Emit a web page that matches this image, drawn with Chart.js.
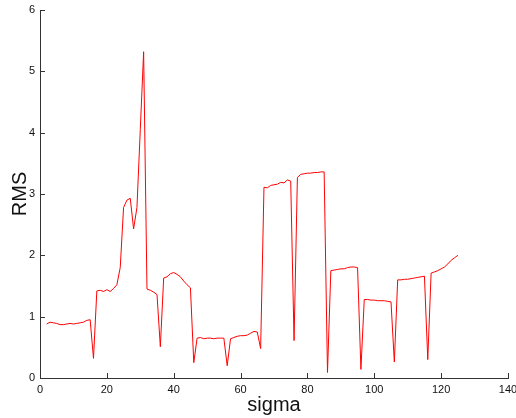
<!DOCTYPE html>
<html>
<head>
<meta charset="utf-8">
<script src="https://cdn.jsdelivr.net/npm/chart.js@4/dist/chart.umd.min.js"></script>
<style>
  body { margin: 0; background: #fff; }
  canvas { display: block; }
</style>
</head>
<body>
<canvas id="myChart" width="516" height="418"></canvas>
<script>
// sigma values along x
let sigma = [2, 3, 4, 5, 6, 7, 8, 9, 10, 11, 12, 13, 14, 15, 16, 17, 18, 19, 20, 21,
    22, 23, 24, 25, 26, 27, 28, 29, 30, 31, 32, 33, 34, 35, 36, 37, 38, 39, 40, 41,
    42, 43, 44, 45, 46, 47, 48, 49, 50, 51, 52, 53, 54, 55, 56, 57, 58, 59, 60, 61,
    62, 63, 64, 65, 66, 67, 68, 69, 70, 71, 72, 73, 74, 75, 76, 77, 78, 79, 80, 81,
    82, 83, 84, 85, 86, 87, 88, 89, 90, 91, 92, 93, 94, 95, 96, 97, 98, 99, 100, 101,
    102, 103, 104, 105, 106, 107, 108, 109, 110, 111, 112, 113, 114, 115, 116, 117, 118, 119, 120, 121,
    122, 123, 124, 125];

// RMS
let rms = [0.88, 0.91, 0.90, 0.89, 0.87, 0.87, 0.88, 0.89, 0.88, 0.89, 0.90, 0.91, 0.94, 0.95, 0.32, 1.42, 1.43, 1.41, 1.44, 1.41,
    1.46, 1.52, 1.80, 2.78, 2.90, 2.93, 2.43, 2.78, 4.05, 5.32, 1.45, 1.43, 1.40, 1.36, 0.51, 1.63, 1.65, 1.70, 1.72, 1.69,
    1.65, 1.58, 1.52, 1.47, 0.25, 0.65, 0.66, 0.64, 0.65, 0.65, 0.64, 0.65, 0.65, 0.65, 0.20, 0.64, 0.66, 0.68, 0.69, 0.69,
    0.70, 0.73, 0.76, 0.75, 0.48, 3.11, 3.10, 3.14, 3.15, 3.16, 3.19, 3.18, 3.23, 3.21, 0.61, 3.27, 3.32, 3.33, 3.34, 3.34,
    3.35, 3.35, 3.36, 3.36, 0.09, 1.75, 1.76, 1.77, 1.78, 1.78, 1.80, 1.81, 1.81, 1.80, 0.14, 1.28, 1.28, 1.27, 1.27, 1.26,
    1.26, 1.26, 1.25, 1.24, 0.26, 1.60, 1.60, 1.61, 1.61, 1.62, 1.63, 1.64, 1.65, 1.66, 0.30, 1.71, 1.73, 1.75, 1.78, 1.81,
    1.86, 1.92, 1.96, 2.00];

let xTicks = [0, 20, 40, 60, 80, 100, 120, 140];
let yTicks = [0, 1, 2, 3, 4, 5, 6];

let axisColor = '#333';
let textColor = '#111';

let points = sigma.map((s, i) => ({ x: s, y: rms[i] }));

// tick marks drawn inward, matlab style
let innerTicks = {
    id: 'innerTicks',
    afterDraw(chart) {
        let ctx = chart.ctx;
        let x = chart.scales.x;
        let y = chart.scales.y;
        let area = chart.chartArea;
        ctx.save();
        ctx.strokeStyle = axisColor;
        ctx.lineWidth = 1;
        ctx.beginPath();
        xTicks.forEach(v => {
            let px = Math.round(x.getPixelForValue(v)) + 0.5;
            ctx.moveTo(px, area.bottom);
            ctx.lineTo(px, area.bottom - 5);
        });
        yTicks.forEach(v => {
            let py = Math.round(y.getPixelForValue(v)) + 0.5;
            ctx.moveTo(area.left, py);
            ctx.lineTo(area.left + 5, py);
        });
        ctx.stroke();
        ctx.restore();
    }
};

let myChart = new Chart(document.getElementById('myChart'), {
    type: 'line',
    data: {
        datasets: [{
            data: points,
            borderColor: '#ff0000',
            borderWidth: 1,
            pointRadius: 0,
            tension: 0,
            fill: false
        }]
    },
    options: {
        responsive: false,
        animation: false,
        layout: { padding: { top: 10, right: 8, left: 0, bottom: 0 } },
        plugins: {
            legend: { display: false },
            tooltip: { enabled: false }
        },
        scales: {
            x: {
                type: 'linear',
                min: 0,
                max: 140,
                afterBuildTicks: scale => { scale.ticks = xTicks.map(v => ({ value: v })); },
                afterFit: scale => {
                    scale.height = 40;
                    scale.paddingLeft = 0;
                    scale.paddingRight = 0;
                },
                ticks: {
                    color: textColor,
                    font: { family: 'Liberation Sans, Arial, sans-serif', size: 11 },
                    padding: 5,
                    maxRotation: 0,
                    autoSkip: false
                },
                grid: { display: false, drawTicks: false },
                border: { display: true, color: axisColor, width: 1 },
                title: {
                    display: true,
                    text: 'sigma',
                    color: textColor,
                    font: { family: 'Liberation Sans, Arial, sans-serif', size: 20 },
                    padding: { top: 0, bottom: 1 }
                }
            },
            y: {
                min: 0,
                max: 6,
                afterBuildTicks: scale => { scale.ticks = yTicks.map(v => ({ value: v })); },
                afterFit: scale => {
                    scale.width = 40;
                    scale.paddingTop = 0;
                    scale.paddingBottom = 0;
                },
                ticks: {
                    color: textColor,
                    font: { family: 'Liberation Sans, Arial, sans-serif', size: 11 },
                    padding: 5
                },
                grid: { display: false, drawTicks: false },
                border: { display: true, color: axisColor, width: 1 },
                title: {
                    display: true,
                    text: 'RMS',
                    color: textColor,
                    font: { family: 'Liberation Sans, Arial, sans-serif', size: 20 },
                    padding: { top: 8, bottom: 0 }
                }
            }
        }
    },
    plugins: [innerTicks]
});
</script>
</body>
</html>
